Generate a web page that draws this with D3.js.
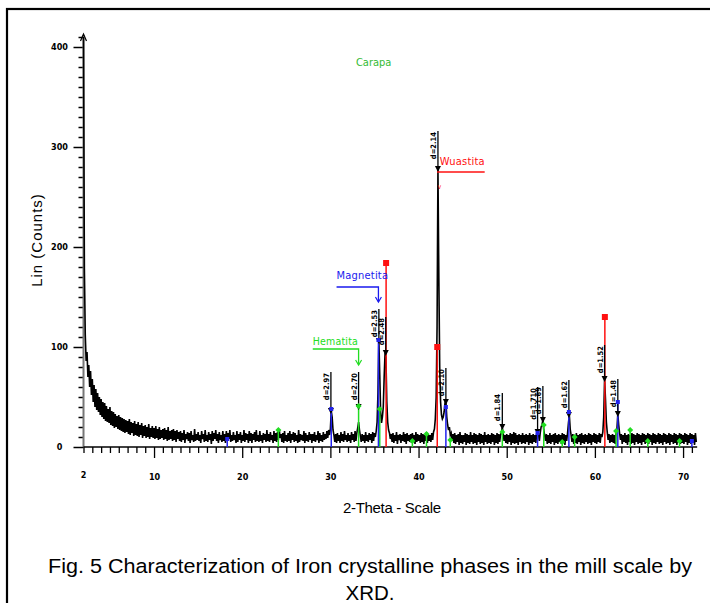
<!DOCTYPE html>
<html><head><meta charset="utf-8">
<script src="https://cdn.jsdelivr.net/npm/d3@7"></script>
<style>
html,body{margin:0;padding:0;background:#fff;}
svg{display:block;}
</style></head>
<body>
<svg id="chart" width="710" height="603"></svg>
<script>
// ---------------- DATA ----------------
const thetaStart = 2.0, thetaStep = 0.1;
const counts = [
410,178,112,86,95,70,82,60,76,52,
68,45,62,40,58,37,54,35,50,32,
48,30,45,28,44,26,41,25,38,24,
40,22,36,21,35,19,33,20,31,18,
32,17,30,16,29,15,28,14,27,15,
26,13,28,12,25,14,24,11,26,12,
23,11,25,10,22,12,24,9,21,11,
22,9,20,10,23,8,19,10,21,9,
19,8,21,9,18,7,20,8,17,9,
18,7,19,8,17,6,20,7,16,8,
17,6,18,7,16,5,17,8,15,6,
16,5,14,7,17,4,13,8,15,6,
14,4,16,7,12,5,18,6,13,7,
15,6,12,4,16,8,13,5,17,6,
12,5,15,7,13,3,16,6,14,8,
17,6,13,4,15,7,12,5,16,6,
13,4,16,6,14,8,17,5,12,6,
15,7,12,4,16,5,13,7,15,4,
12,6,17,5,14,7,13,4,16,6,
14,4,13,7,15,5,17,6,12,5,
16,6,12,4,14,7,13,5,17,6,
13,5,15,7,12,4,16,6,14,5,
15,7,18,9,13,5,14,4,16,6,
12,5,14,6,16,4,13,7,15,5,
14,6,12,4,17,5,13,7,12,6,
16,4,14,6,12,5,15,7,13,4,
13,6,15,5,12,7,16,4,14,6,
12,5,15,7,13,8,16,9,17,12,
18,36,30,17,12,5,13,4,14,6,
12,4,15,6,13,5,16,7,12,5,
14,6,12,4,15,7,13,5,16,6,
14,19,25,17,11,5,13,6,12,4,
15,6,12,5,14,7,13,4,15,6,
14,10,16,25,55,106,72,35,24,30,
40,70,94,90,45,25,17,14,8,13,
5,14,4,12,6,15,3,12,7,13,
4,12,6,15,5,13,3,14,6,12,
5,13,4,14,7,12,3,15,5,13,
6,12,4,14,5,13,3,12,6,15,
4,13,6,12,5,14,7,15,18,28,
50,120,278,170,80,45,32,28,30,35,
44,46,30,22,17,20,12,14,6,13,
4,14,3,12,5,13,2,15,4,12,
3,12,5,14,2,13,4,12,3,15,
5,12,3,14,4,13,2,12,5,14,
3,13,4,12,2,15,5,12,3,13,
4,12,3,14,5,13,2,12,4,14,
3,13,5,12,15,19,14,6,12,4,
13,3,12,5,14,2,13,4,15,3,
14,4,12,2,13,5,12,3,14,4,
12,3,13,5,12,2,14,4,12,3,
13,5,12,4,14,16,13,6,14,20,
22,27,17,12,6,13,3,12,4,14,
3,12,5,13,2,14,4,12,3,13,
5,12,3,14,4,13,2,12,6,14,
24,32,18,12,5,13,3,12,4,14,
3,12,5,13,2,14,4,12,3,13,
5,12,3,14,4,13,2,12,5,14,
4,13,3,12,5,14,4,13,10,15,
30,68,48,25,15,7,13,4,12,5,
13,4,12,3,14,18,33,22,14,7,
13,3,12,5,14,4,12,2,13,5,
12,3,14,4,13,2,12,5,14,3,
13,4,12,2,14,5,13,3,12,4,
14,3,13,5,12,2,14,4,13,3,
12,5,14,3,13,4,12,2,14,5,
13,3,12,4,14,2,13,5,12,3,
14,4,13,2,12,5,14,3,13,4,
12,3,14,5,13,2,12,4,14,3,
13,4,12,2,14,5
];

// peak d-spacing annotations
const dPos   = [30.06, 33.2, 35.5, 36.28, 42.2, 43.1, 49.5, 53.5, 54.1, 57.05, 61.1, 62.6];
const dPeak  = [36, 40, 106, 94, 278, 45, 20, 15, 27, 32, 68, 33];
const dTop   = [75, 75, 138, 130, 316, 79, 54, 60, 61, 67, 102, 68];
const dLabel = ["d=2.97","d=2.70","d=2.53","d=2.48","d=2.14","d=2.10","d=1.84","d=1.710","d=1.69","d=1.62","d=1.52","d=1.48"];

// reference phase stick patterns
const wustitePos = [36.32, 42.12, 61.13];
const wustiteH   = [184, 100, 130];
const magnetitePos = [18.3, 30.1, 35.45, 43.1, 53.5, 57.05, 62.6, 71.0];
const magnetiteH   = [8, 38, 107, 40, 14, 35, 45, 6];
const hematitePos = [24.1, 33.2, 35.6, 39.3, 40.9, 43.6, 49.5, 54.2, 56.3, 57.7, 62.4, 64.0, 66.0, 69.6];
const hematiteH   = [17, 41, 38, 6, 13, 7, 15, 22, 5, 10, 16, 17, 6, 6];

// axis ticks
const xMajor = [10, 20, 30, 40, 50, 60, 70];
const xMajorLabels = ["10","20","30","40","50","60","70"];
const yMajor = [0, 100, 200, 300, 400];
const yMajorLabels = ["0","100","200","300","400"];

// ---------------- DRAW ----------------
const svg = d3.select("#chart");
const x = d3.scaleLinear().domain([2, 72]).range([83.5, 700.7]);
const y = d3.scaleLinear().domain([0, 400]).range([447, 47]);
const cond = "'DejaVu Sans Condensed','DejaVu Sans',sans-serif";
const arial = "'Liberation Sans',Arial,sans-serif";

// frame
svg.append("rect").attr("x", 7).attr("y", 9).attr("width", 720).attr("height", 620)
  .attr("fill", "none").attr("stroke", "#000").attr("stroke-width", 2.2);

const series = counts.map((c, i) => ({t: thetaStart + i * thetaStep, c}));

// y axis minor ticks
const yMinor = d3.range(0, 411, 10).filter(v => v % 100 !== 0);
svg.append("g").attr("transform", `translate(${x(2)},0)`)
  .call(d3.axisLeft(y).tickValues(yMinor).tickSize(5).tickFormat(""))
  .call(g => g.select(".domain").remove())
  .call(g => g.selectAll("line").attr("stroke", "#000").attr("stroke-width", 1.5));
svg.append("g").attr("transform", `translate(${x(2)},0)`)
  .call(d3.axisLeft(y).tickValues(yMajor).tickSize(10).tickPadding(8).tickFormat((d, i) => yMajorLabels[i]))
  .call(g => g.select(".domain").remove())
  .call(g => g.selectAll("line").attr("stroke", "#000").attr("stroke-width", 1.5))
  .call(g => g.selectAll("text").attr("font-family", cond).attr("font-weight", "bold")
      .attr("font-size", 9).attr("fill", "#000").attr("text-anchor", "middle").attr("dx", -6));
// y axis line (grey) with arrow
svg.append("line").attr("x1", x(2)).attr("x2", x(2)).attr("y1", y(0)).attr("y2", y(412))
  .attr("stroke", "#777").attr("stroke-width", 2);
svg.append("path").attr("d", d3.line()([[x(2) - 3, y(406)], [x(2), y(413)], [x(2) + 3, y(406)]]))
  .attr("fill", "none").attr("stroke", "#000").attr("stroke-width", 1.2);

// x axis
const xMinor = d3.range(2, 72, 1).filter(v => v % 10 !== 0);
svg.append("g").attr("transform", `translate(0,${y(0)})`)
  .call(d3.axisBottom(x).tickValues(xMinor).tickSize(6).tickFormat(""))
  .call(g => g.select(".domain").remove())
  .call(g => g.selectAll("line").attr("stroke", "#000").attr("stroke-width", 1.3));
svg.append("g").attr("transform", `translate(0,${y(0)})`)
  .call(d3.axisBottom(x).tickValues(xMajor).tickSize(11).tickPadding(16).tickFormat((d, i) => xMajorLabels[i]))
  .call(g => g.select(".domain").remove())
  .call(g => g.selectAll("line").attr("stroke", "#000").attr("stroke-width", 1.3))
  .call(g => g.selectAll("text").attr("font-family", cond).attr("font-weight", "bold")
      .attr("font-size", 9).attr("fill", "#000"));
svg.append("text").attr("x", x(2)).attr("y", y(0) + 31).attr("text-anchor", "middle")
  .attr("font-family", cond).attr("font-weight", "bold").attr("font-size", 9).text("2");
svg.append("line").attr("x1", x(2)).attr("x2", x(71.6)).attr("y1", y(0)).attr("y2", y(0))
  .attr("stroke", "#000").attr("stroke-width", 1.6);

// data line
svg.append("path").datum(series)
  .attr("d", d3.line().x(d => x(d.t)).y(d => y(d.c)))
  .attr("fill", "none").attr("stroke", "#000").attr("stroke-width", 1.6).attr("stroke-linejoin", "miter");

// stick patterns
function sticks(pos, h, color, w) {
  svg.append("g").selectAll("line").data(pos).join("line")
    .attr("x1", d => x(d)).attr("x2", d => x(d))
    .attr("y1", y(0)).attr("y2", (d, i) => y(h[i]))
    .attr("stroke", color).attr("stroke-width", w);
}
sticks(hematitePos, hematiteH, "#22dd22", 1.5);
sticks(magnetitePos, magnetiteH, "#2222ee", 1.5);
sticks(wustitePos, wustiteH, "#ff1010", 1.5);

// d-spacing lines, triangles and labels
const dg = svg.append("g");
dg.selectAll("line").data(dPos).join("line")
  .attr("x1", d => x(d)).attr("x2", d => x(d))
  .attr("y1", (d, i) => y(dTop[i])).attr("y2", (d, i) => y(dPeak[i]))
  .attr("stroke", "#000").attr("stroke-width", 1.3);
dg.selectAll("path").data(dPos).join("path")
  .attr("d", (d, i) => d3.line()([[x(d) - 3, y(dPeak[i]) - 3], [x(d) + 3, y(dPeak[i]) - 3], [x(d), y(dPeak[i]) + 3]]) + "Z")
  .attr("fill", "#000");
dg.selectAll("text").data(dPos).join("text")
  .attr("transform", (d, i) => `translate(${x(d) - 2},${y(dTop[i]) + 1}) rotate(-90)`)
  .attr("text-anchor", "end")
  .attr("font-family", cond).attr("font-weight", "bold").attr("font-size", 7.5)
  .text((d, i) => dLabel[i]);

// phase markers
svg.append("g").selectAll("rect").data(wustitePos).join("rect")
  .attr("x", d => x(d) - 3).attr("y", (d, i) => y(wustiteH[i]) - 3)
  .attr("width", 6).attr("height", 6).attr("fill", "#ff1010");
svg.append("g").selectAll("rect").data(magnetitePos).join("rect")
  .attr("x", d => x(d) - 2).attr("y", (d, i) => y(magnetiteH[i]) - 2)
  .attr("width", 4).attr("height", 4).attr("fill", "#2222ee");
svg.append("g").selectAll("path").data(hematitePos).join("path")
  .attr("d", (d, i) => {
    const cx = x(d), cy = y(hematiteH[i]);
    return `M${cx},${cy - 3}L${cx + 3},${cy}L${cx},${cy + 3}L${cx - 3},${cy}Z`;
  })
  .attr("fill", "#22dd22");

// phase annotations
function annot(label, color, tx, ty, ux1, ux2, uy, arrowX, arrowY, fs) {
  svg.append("text").attr("x", x(tx)).attr("y", y(ty)).attr("fill", color)
    .attr("font-family", cond).attr("font-size", fs).attr("letter-spacing", 0.2).text(label);
  const pts = [[x(ux1), y(uy)], [x(ux2), y(uy)]];
  if (arrowX !== null) pts.push([x(arrowX), y(uy)], [x(arrowX), y(arrowY)]);
  svg.append("path").attr("d", d3.line()(pts)).attr("fill", "none").attr("stroke", color).attr("stroke-width", 1.3);
  if (arrowX !== null) {
    svg.append("path").attr("d", d3.line()([[x(arrowX) - 3, y(arrowY) - 5], [x(arrowX), y(arrowY)], [x(arrowX) + 3, y(arrowY) - 5]]))
      .attr("fill", "none").attr("stroke", color).attr("stroke-width", 1.2);
  }
}
annot("Magnetita", "#1a1aee", 30.7, 168, 30.7, 35.45, 160, 35.45, 145, 11);
annot("Hematita", "#22dd22", 28.0, 102, 28.0, 33.2, 98, 33.2, 82, 10.5);
annot("Wuastita", "#ff1010", 42.4, 282, 42.1, 47.5, 275, null, null, 11);
svg.append("text").attr("x", x(42.15)).attr("y", y(258)).attr("fill", "#ff1010")
  .attr("font-family", cond).attr("font-size", 7).text("v");

svg.append("text").attr("x", x(32.9)).attr("y", y(381)).attr("fill", "#33bb33")
  .attr("font-family", cond).attr("font-size", 11).text("Carapa");

// axis titles
svg.append("text").attr("x", 392).attr("y", 513).attr("text-anchor", "middle")
  .attr("font-family", arial).attr("font-size", 15).attr("textLength", 98).text("2-Theta - Scale");
svg.append("text").attr("transform", "translate(42,240) rotate(-90)").attr("text-anchor", "middle")
  .attr("font-family", arial).attr("font-size", 15).attr("letter-spacing", 1)
  .text("Lin (Counts)");

// caption
svg.append("text").attr("x", 370).attr("y", 573).attr("text-anchor", "middle")
  .attr("font-family", arial).attr("font-size", 20.5).attr("textLength", 644)
  .attr("lengthAdjust", "spacingAndGlyphs")
  .text("Fig. 5 Characterization of Iron crystalline phases in the mill scale by");
svg.append("text").attr("x", 370).attr("y", 600).attr("text-anchor", "middle")
  .attr("font-family", arial).attr("font-size", 20.5)
  .text("XRD.");
</script>
</body></html>
